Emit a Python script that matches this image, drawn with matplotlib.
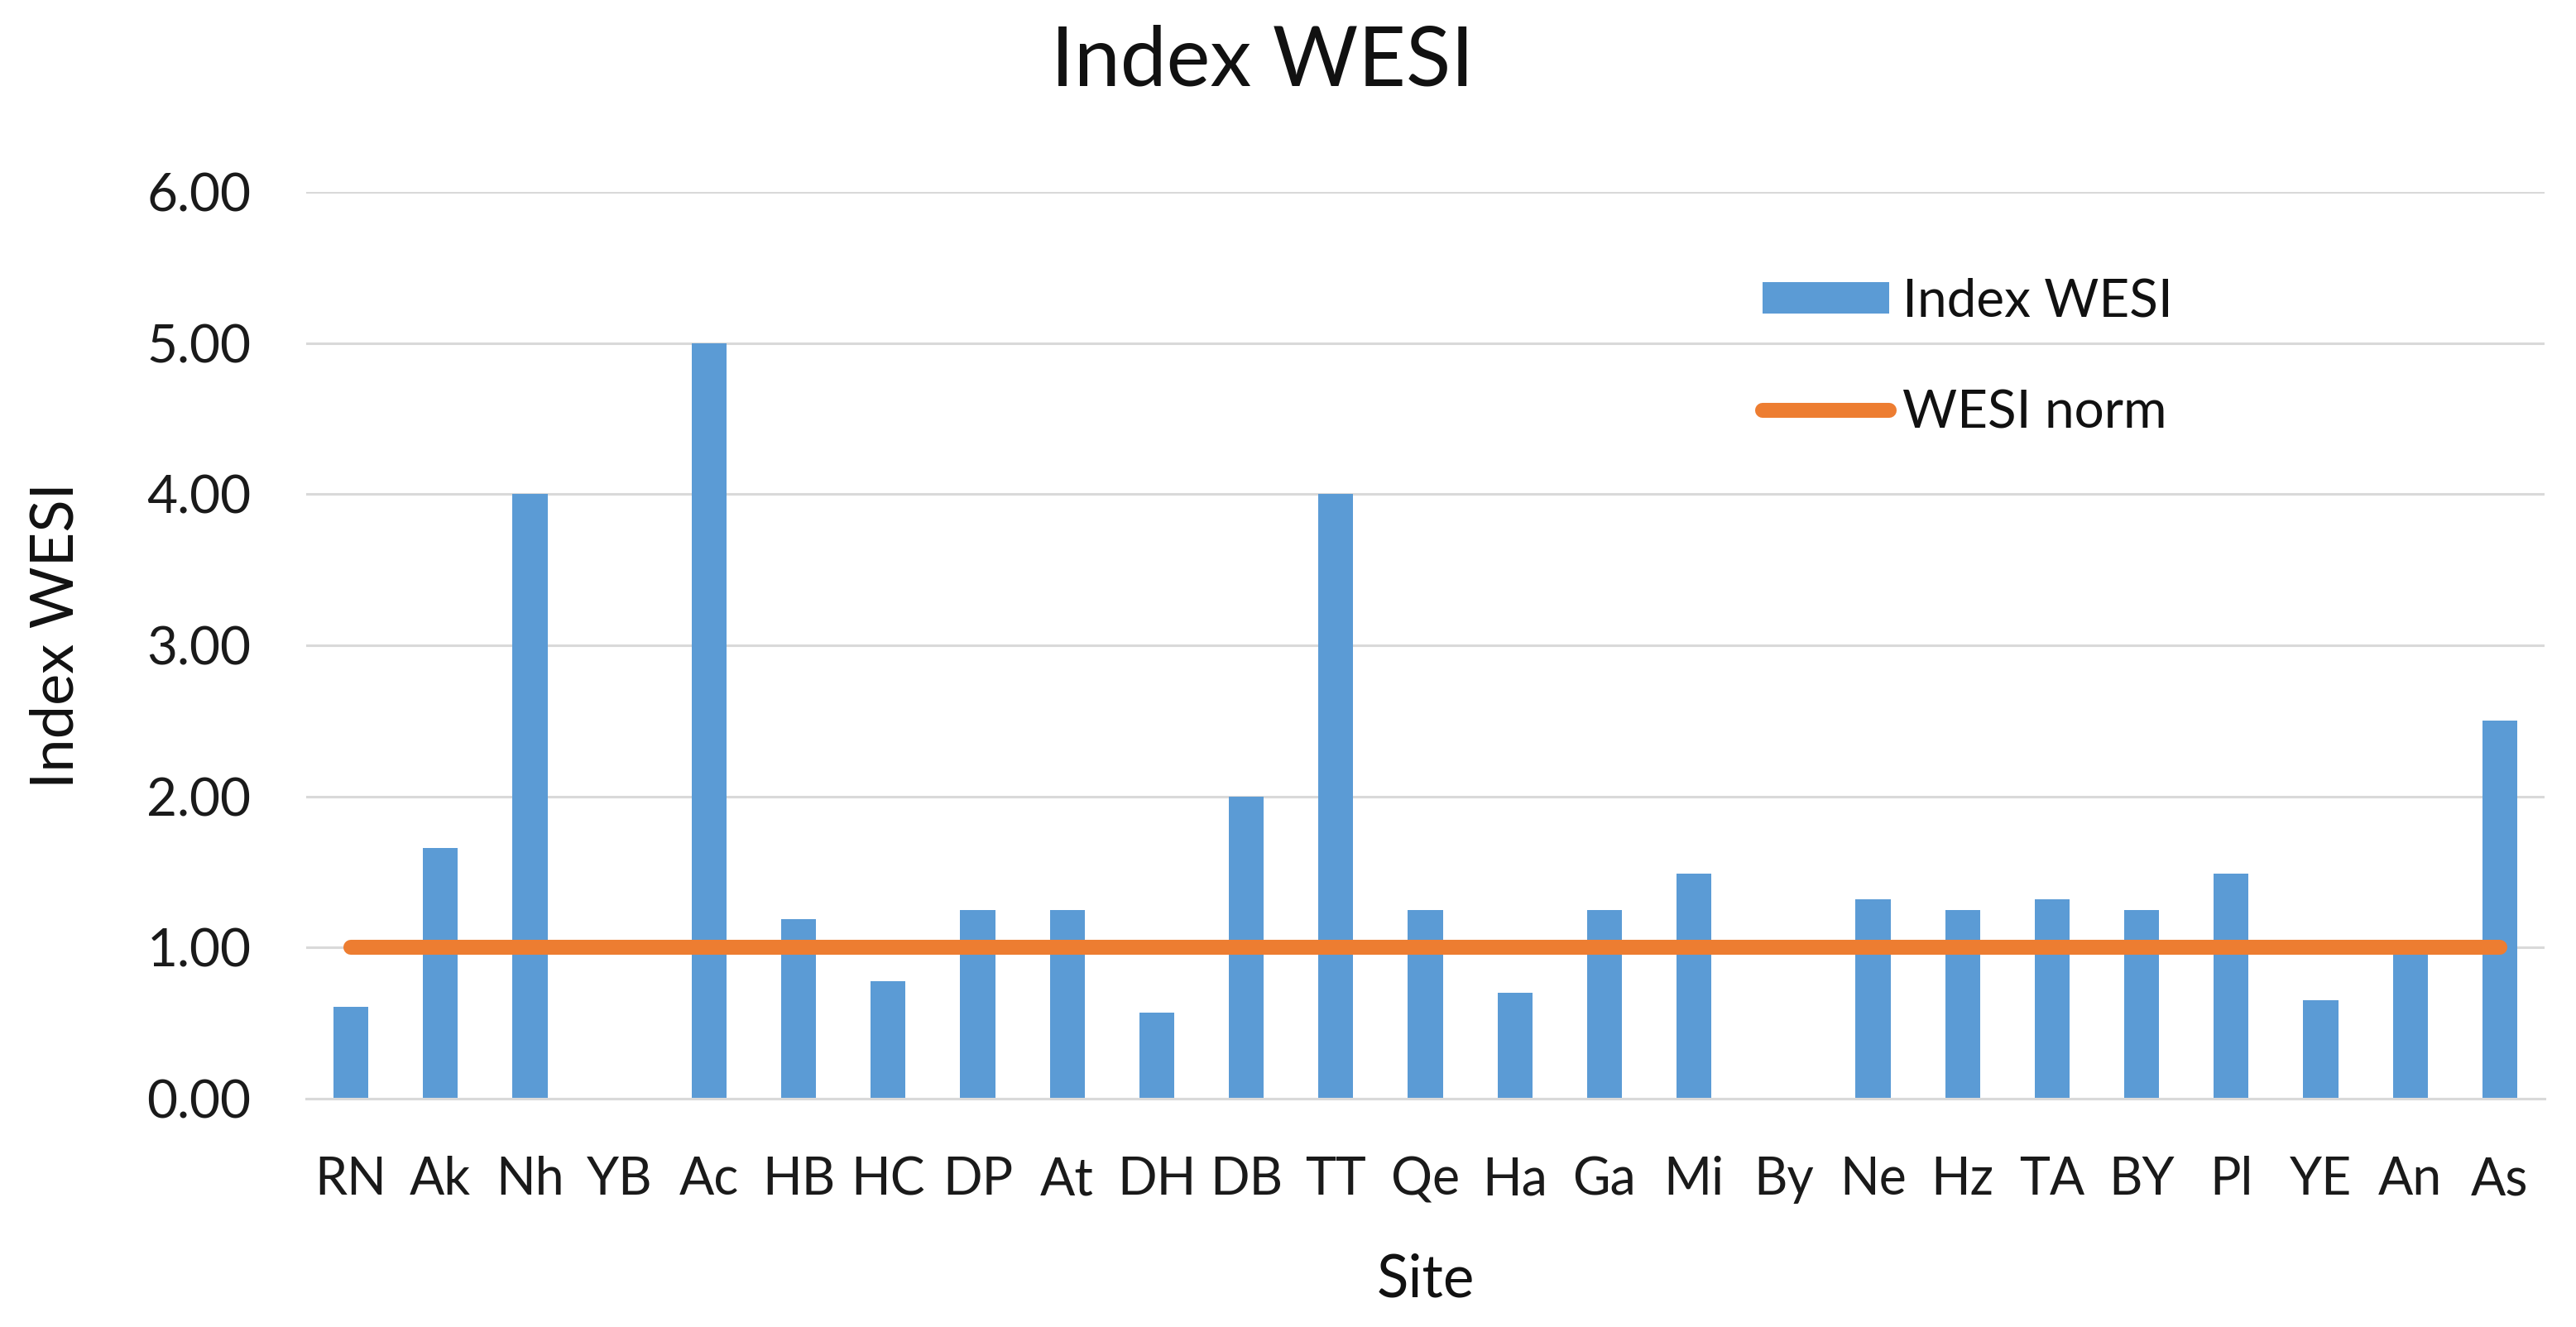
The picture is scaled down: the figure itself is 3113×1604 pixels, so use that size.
import matplotlib
matplotlib.use("Agg")
import matplotlib.pyplot as plt
from matplotlib.lines import Line2D
from matplotlib.patches import Patch

sites = ["RN", "Ak", "Nh", "YB", "Ac", "HB", "HC", "DP", "At", "DH", "DB", "TT",
         "Qe", "Ha", "Ga", "Mi", "By", "Ne", "Hz", "TA", "BY", "Pl", "YE", "An", "As"]
wesi = [0.61, 1.66, 4.00, 0.00, 5.00, 1.19, 0.78, 1.25, 1.25, 0.57, 2.00, 4.00,
        1.25, 0.70, 1.25, 1.49, 0.00, 1.32, 1.25, 1.32, 1.25, 1.49, 0.65, 1.00, 2.50]
norm = [1.0] * len(sites)
yticks = [0, 1, 2, 3, 4, 5, 6]

plt.rcParams['font.family'] = ['Lato', 'DejaVu Sans']

W, H = 3113, 1604
fig = plt.figure(figsize=(W / 100, H / 100), dpi=100)
ax = fig.add_axes([370 / W, 1 - 1328 / H, (3075 - 370) / W, (1328 - 232) / H])

x = list(range(len(sites)))
ax.bar(x, wesi, width=0.39, color="#5B9BD5", zorder=2, label="Index WESI")
ax.plot(x, norm, color="#ED7D31", lw=13, solid_capstyle="round", zorder=3, label="WESI norm")

ax.set_xlim(-0.5, len(sites) - 0.5)
ax.set_ylim(0, 6)
ax.set_yticks(yticks)
ax.set_yticklabels([f"{v:.2f}" for v in yticks])
ax.set_xticks(x)
ax.set_xticklabels(sites)
ax.tick_params(axis="y", length=0, pad=48, labelsize=46, labelcolor="#1a1a1a")
ax.tick_params(axis="x", length=0, pad=50, labelsize=45, labelcolor="#1a1a1a")
ax.yaxis.grid(True, color="#D9D9D9", lw=2.2, zorder=0)
for s in ["left", "right", "top"]:
    ax.spines[s].set_visible(False)
ax.spines["bottom"].set_color("#D9D9D9")
ax.spines["bottom"].set_linewidth(2.2)

fig.text(1526 / W, 1 - 103 / H, "Index WESI", ha="center", va="baseline", fontsize=72, color="#111111")
fig.text(68 / W, 1 - 768 / H, "Index WESI", ha="center", va="center", rotation=90, fontsize=52, color="#111111")
fig.text(1723 / W, 1 - 1568 / H, "Site", ha="center", va="baseline", fontsize=51, color="#111111")

handles = [Patch(facecolor="#5B9BD5", edgecolor="none"),
           Line2D([0], [0], color="#ED7D31", lw=13, solid_capstyle="round")]
leg = fig.legend(handles, ["Index WESI", "WESI norm"], loc="upper left",
                 bbox_to_anchor=(2072 / W, 1 - 278 / H), frameon=False, fontsize=46,
                 handlelength=2.4, handleheight=0.55, handletextpad=0.25, labelspacing=1.2)
for t in leg.get_texts():
    t.set_color("#111111")

fig.savefig("out.png", dpi=100, facecolor="white")
